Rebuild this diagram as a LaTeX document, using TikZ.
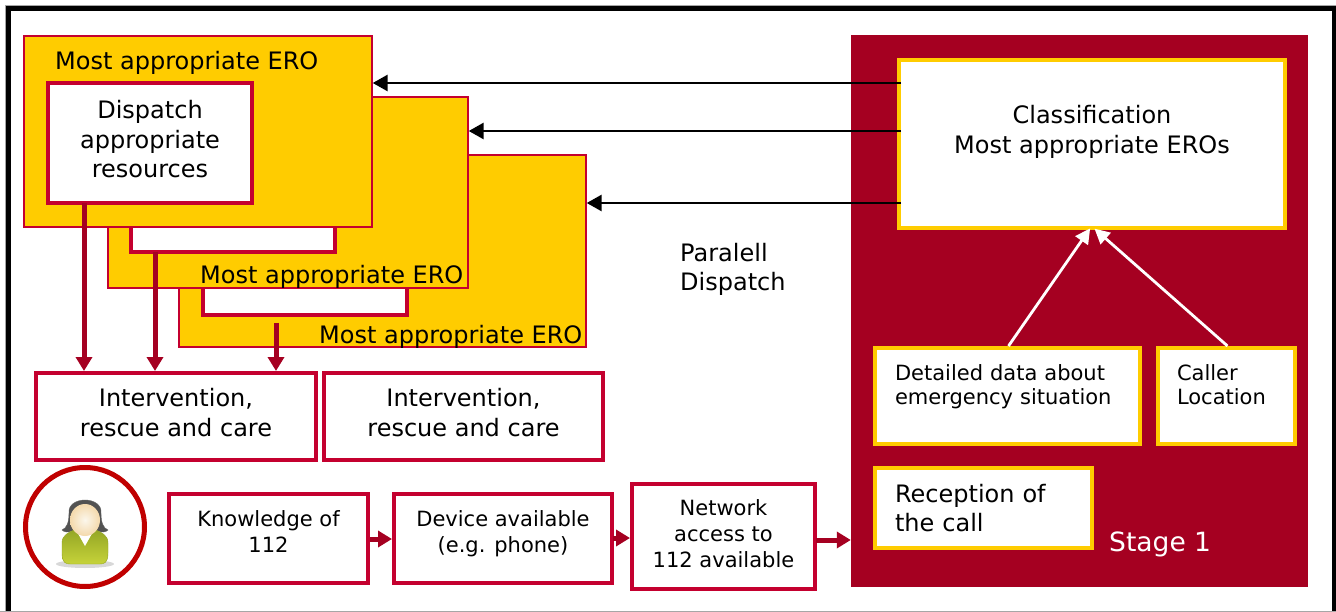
\documentclass[tikz,border=0pt]{standalone}
\usepackage{fontspec}
\setmainfont{DejaVu Sans}
\usetikzlibrary{arrows.meta}
\definecolor{gold}{HTML}{FFCC00}
\definecolor{crim}{HTML}{C4002F}
\definecolor{maroon}{HTML}{A50021}
\definecolor{ringred}{HTML}{C00000}
\definecolor{leafdark}{HTML}{93A524}
\definecolor{leaflight}{HTML}{C6D33A}
\definecolor{skin}{HTML}{F3E3BF}
\newcommand\bx[7]{\node[#6,minimum width={#4-#2},minimum height={#5-#3}] (#1) at ({(#2+#4)/2},{(#3+#5)/2}) {#7};}
\tikzset{
  base/.style={draw,rectangle,inner sep=0pt,text=black},
  ero/.style={base,draw=crim,fill=gold,line width=1.4pt},
  redbox/.style={base,draw=crim,fill=white,line width=4pt,align=center},
  goldbox/.style={base,draw=gold,fill=white,line width=4pt},
  lbl/.style={anchor=base west,inner sep=0pt,text=black,align=left},
  big/.style={font=\fontsize{24}{29.5}\selectfont},
  mid/.style={font=\fontsize{21}{26}\selectfont},
  tight/.style={font=\fontsize{21}{24}\selectfont},
  blackarrow/.style={draw=black,line width=2.8pt,-{Triangle[length=15pt,width=16pt]}},
  redarrow/.style={draw=maroon,line width=5pt,-{Triangle[length=14pt,width=16pt]}},
  whitearrow/.style={draw=white,line width=2.8pt,shorten >=-2pt,-{Triangle[length=15pt,width=15pt]}},
}
\begin{document}
\begin{tikzpicture}[x=1pt,y=-1pt]
\useasboundingbox (0,0) rectangle (1336,612);
% frame
\draw[gray!70,line width=1pt] (5,5.5) -- (1336,5.5) (5,5.5) -- (5,611) (0,611) -- (1336,611);
\fill[black] (6,6) rectangle (1336,11);
\fill[black] (6,6) rectangle (11,611);
\fill[black] (1332,6) rectangle (1336,611);
% stacked ERO boxes
\bx{ero3}{179}{155}{586}{347}{ero}{}
\bx{disp3}{203}{195}{407}{315}{redbox}{}
\bx{ero2}{108}{97}{468}{288}{ero}{}
\bx{disp2}{131}{132}{335}{252}{redbox}{}
\bx{ero1}{24}{36}{372}{227}{ero}{}
\bx{disp1}{48}{83}{252}{203}{redbox,big,text depth=8pt}{Dispatch\\appropriate\\resources}
\node[lbl,big] (t1) at (55,69.5) {Most appropriate ERO};
\node[lbl,big] (t2) at (200,284) {Most appropriate ERO};
\node[lbl,big] (t3) at (319,344) {Most appropriate ERO};
% intervention
\bx{int1}{36}{373}{316}{460}{redbox,big,text depth=8pt}{Intervention,\\rescue and care}
\bx{int2}{324}{373}{603}{460}{redbox,big,text depth=8pt}{Intervention,\\rescue and care}
\coordinate (a1) at (84,203);
\coordinate (a2) at (155,252);
\coordinate (a3) at (276,323);
\draw[redarrow] (a1) -- (a1 |- int1.north);
\draw[redarrow] (a2) -- (a2 |- int1.north);
\draw[redarrow] (a3) -- (a3 |- int1.north);
% panel
\bx{panel}{851}{35}{1308}{587}{draw=none,fill=maroon,rectangle}{}
\bx{class}{899}{60}{1285}{228}{goldbox,big,align=center}{Classification\\Most appropriate EROs\\\mbox{}}
\bx{data}{875}{348}{1140}{444}{goldbox,tight,align=left,text width=225pt,inner xsep=20pt,text depth=46pt}{Detailed data about\\emergency situation}
\bx{loc}{1158}{348}{1295}{444}{goldbox,tight,align=left,text width=99pt,inner xsep=19pt,text depth=46pt}{Caller\\Location}
\bx{rec}{875}{468}{1092}{548}{goldbox,big,align=left,text width=177pt,inner xsep=20pt}{Reception of\\the call}
\node[lbl,font=\fontsize{26.5}{30}\selectfont,text=white] (stage) at (1109,551) {Stage 1};
\node[lbl,big] (par) at (680,291) {Paralell\\Dispatch};
% arrows to ERO boxes
\coordinate (b1) at (901,83);
\coordinate (b2) at (901,131);
\coordinate (b3) at (901,203);
\draw[blackarrow] (b1) -- (b1 -| ero1.east);
\draw[blackarrow] (b2) -- (b2 -| ero2.east);
\draw[blackarrow] (b3) -- (b3 -| ero3.east);
\draw[whitearrow] ([xshift=1pt]data.north) -- ([xshift=-3pt]class.south);
\draw[whitearrow] ([xshift=1pt]loc.north) -- ([xshift=4pt]class.south);
% caller icon
\node[circle,draw=ringred,line width=5pt,fill=white,minimum size=119pt,inner sep=0pt] (ring) at (85,527) {};
\fill[black!30,opacity=.5] (85,564) ellipse (29 and 4);
\path[draw=black!60,fill=black!68] (72,531) .. controls (68,533) and (64,532) .. (62,530) .. controls (67,528) and (69,522) .. (69,513) .. controls (68,505) and (76,500) .. (85,500) .. controls (94,500) and (102,505) .. (101,513) .. controls (101,522) and (103,528) .. (108,530) .. controls (106,532) and (102,533) .. (98,531) -- cycle;
\path[draw=leafdark,top color=leafdark,bottom color=leaflight] (62,553) -- (62,543) .. controls (62,535) and (68,533) .. (76,529) -- (94,529) .. controls (102,533) and (108,535) .. (108,543) -- (108,553) .. controls (108,563) and (104,564) .. (100,564) -- (70,564) .. controls (66,564) and (62,563) .. (62,553) -- cycle;
\fill[white] (76,530) -- (85,546) -- (94,530) -- cycle;
\shade[inner color=white!70!skin,outer color=skin!90!orange] (85,520) ellipse (15 and 16);
% chain
\bx{know}{169}{494}{368}{583}{redbox,mid,text depth=13pt}{Knowledge of\\112}
\bx{dev}{394}{494}{612}{583}{redbox,mid,text depth=13pt}{Device available\\(e.g. phone)}
\bx{net}{632}{484}{815}{589}{redbox,mid,text depth=6pt}{Network\\access to\\112 available}
\coordinate (c1) at (370,539);
\coordinate (c2) at (613,538);
\coordinate (c3) at (816,540);
\draw[redarrow] (c1) -- (c1 -| dev.west);
\draw[redarrow] (c2) -- (c2 -| net.west);
\draw[redarrow] (c3) -- (c3 -| panel.west);
\end{tikzpicture}
\end{document}
